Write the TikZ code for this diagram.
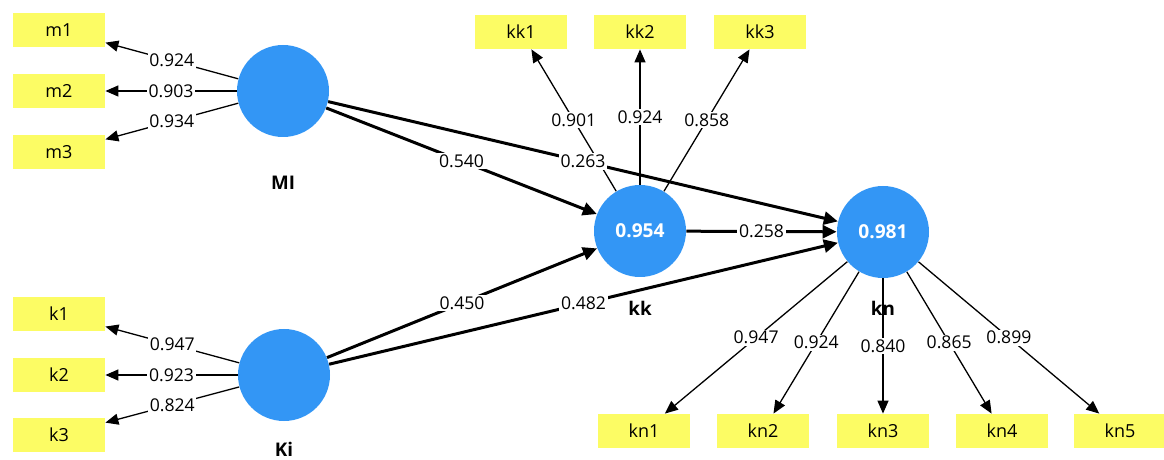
\documentclass[tikz,border=0pt]{standalone}
\usepackage{fontspec}
\setmainfont{Open Sans}
\usetikzlibrary{arrows.meta}
\definecolor{latentblue}{RGB}{51,150,245}
\definecolor{itemyellow}{RGB}{252,252,100}
\tikzset{
  latent/.style={circle, fill=latentblue, draw=none, minimum size=46pt, inner sep=0pt,
    text=white, font=\fontsize{9.6}{10}\selectfont\bfseries},
  item/.style={rectangle, fill=itemyellow, draw=none, minimum width=46pt, minimum height=17pt,
    inner sep=0pt, font=\fontsize{9}{10}\selectfont},
  lvname/.style={font=\fontsize{9.4}{10}\selectfont\bfseries, inner sep=0pt},
  coef/.style={fill=white, inner sep=0.8pt, font=\fontsize{8.8}{10}\selectfont},
  loading/.style={line width=0.65pt, -{Triangle[length=6.5pt, width=5.5pt]}},
  path/.style={line width=1.5pt, -{Triangle[length=7pt, width=6.5pt]}},
}
\begin{document}
\begin{tikzpicture}[x=0.5pt, y=-0.5pt]
\useasboundingbox (0,0) rectangle (1164,460);

% latent variables
\node[latent] (MI) at (283,91) {};
\node[latent] (Ki) at (284,375) {};
\node[latent] (kk) at (640,231) {0.954};
\node[latent] (kn) at (883,232) {0.981};

% their names
\node[lvname] (MIname) at (283,183) {MI};
\node[lvname] (Kiname) at (284,449) {Ki};
\node[lvname] (kkname) at (640,308) {kk};
\node[lvname] (knname) at (883,308) {kn};

% indicators
\node[item] (m1) at (59,30) {m1};
\node[item] (m2) at (59,91) {m2};
\node[item] (m3) at (59,152) {m3};
\node[item] (k1) at (59,314) {k1};
\node[item] (k2) at (59,375) {k2};
\node[item] (k3) at (59,435) {k3};
\node[item] (kk1) at (521,32) {kk1};
\node[item] (kk2) at (640,32) {kk2};
\node[item] (kk3) at (760,32) {kk3};
\node[item] (kn1) at (644,431) {kn1};
\node[item] (kn2) at (763,431) {kn2};
\node[item] (kn3) at (883,431) {kn3};
\node[item] (kn4) at (1002,431) {kn4};
\node[item] (kn5) at (1120,431) {kn5};

% outer loadings
\draw[loading] (MI) -- node[coef] {0.924} (m1);
\draw[loading] (MI) -- node[coef] {0.903} (m2);
\draw[loading] (MI) -- node[coef] {0.934} (m3);
\draw[loading] (Ki) -- node[coef] {0.947} (k1);
\draw[loading] (Ki) -- node[coef] {0.923} (k2);
\draw[loading] (Ki) -- node[coef] {0.824} (k3);
\draw[loading] (kk) -- node[coef] {0.901} (kk1);
\draw[loading] (kk) -- node[coef] {0.924} (kk2);
\draw[loading] (kk) -- node[coef] {0.858} (kk3);
\draw[loading] (kn) -- node[coef] {0.947} (kn1);
\draw[loading] (kn) -- node[coef] {0.924} (kn2);
\draw[loading] (kn) -- node[coef] {0.840} (kn3);
\draw[loading] (kn) -- node[coef] {0.865} (kn4);
\draw[loading] (kn) -- node[coef] {0.899} (kn5);

% path coefficients
\draw[path] (MI) -- node[coef] {0.540} (kk);
\draw[path] (MI) -- node[coef] {0.263} (kn);
\draw[path] (Ki) -- node[coef] {0.450} (kk);
\draw[path] (Ki) -- node[coef] {0.482} (kn);
\draw[path] (kk) -- node[coef] {0.258} (kn);
\end{tikzpicture}
\end{document}
